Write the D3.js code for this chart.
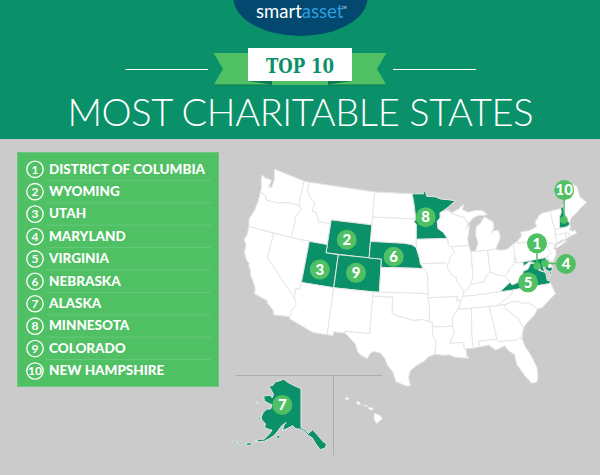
<!DOCTYPE html>
<html>
<head>
<meta charset="utf-8">
<script src="https://cdn.jsdelivr.net/npm/d3@7"></script>
<style>
  html, body { margin: 0; padding: 0; background: #cbcbcb; }
  svg { display: block; }
</style>
</head>
<body>
<svg id="chart"></svg>
<script>
// ranking, best first
const rankNames = ["DISTRICT OF COLUMBIA", "WYOMING", "UTAH", "MARYLAND", "VIRGINIA", "NEBRASKA", "ALASKA", "MINNESOTA", "COLORADO", "NEW HAMPSHIRE"];
const rankCodes = ["DC", "WY", "UT", "MD", "VA", "NE", "AK", "MN", "CO", "NH"];
// where each number badge sits, lon/lat
const badgeAt = [[-76.7,41.58],[-108,42.9],[-111.6,38.9],[-72.93,38.4],[-79.24,37.2],[-100.1,41.35],[-154.1,65.2],[-94.84,46.15],[-105.9,39.1],[-70.1,47.04]];
// little dot a badge is tied to, for states too small to hold one
const pinAt = [[-77.4,38.92],null,null,[-76.1,39.04],null,null,null,null,null,[-71.5,43.56]];

// state outlines, lon/lat
const WA = [[-124.73,48.38],[-123.9,48.17],[-123.1,48.15],[-122.75,48.1],[-122.9,47.2],[-122.4,47.3],[-122.3,48.1],[-122.75,49.5],[-117.03,49],[-117.04,46.42],[-116.92,45.99],[-118.98,46],[-119.3,45.93],[-120.5,45.7],[-121.2,45.65],[-122.2,45.6],[-122.75,45.65],[-123,46.1],[-123.4,46.22],[-124.05,46.27],[-124.1,46.9],[-124.6,47.9]];
const OR = [[-124.05,46.27],[-123.4,46.22],[-123,46.1],[-122.75,45.65],[-122.2,45.6],[-121.2,45.65],[-120.5,45.7],[-119.3,45.93],[-118.98,46],[-116.92,45.99],[-116.46,45.6],[-116.85,44.95],[-117.22,44.4],[-116.93,44.1],[-117.03,43.83],[-117.03,42],[-124.21,42],[-124.55,42.84],[-124.1,44],[-123.95,45.2]];
const CA = [[-124.21,42],[-120,42],[-120,39],[-114.63,35],[-114.14,34.3],[-114.72,33.4],[-114.72,32.72],[-117.12,32.53],[-117.3,33.05],[-118.4,33.75],[-118.5,34.03],[-119.2,34.15],[-120.5,34.45],[-120.65,35.15],[-121.9,36.6],[-122,36.96],[-122.5,37.5],[-122.5,37.8],[-123,38],[-123.7,38.9],[-123.8,39.8],[-124.35,40.3],[-124.1,41]];
const NV = [[-120,42],[-114.04,42],[-114.04,36.2],[-114.74,36.1],[-114.63,35],[-120,39]];
const ID = [[-117.03,42],[-117.03,43.83],[-116.93,44.1],[-117.22,44.4],[-116.85,44.95],[-116.46,45.6],[-116.92,45.99],[-117.04,46.42],[-117.03,49],[-116.05,49],[-116.05,48],[-115.7,47.45],[-114.95,47],[-114.35,46.65],[-114.5,45.6],[-113.9,45.65],[-113.45,45.05],[-113,44.45],[-112.3,44.55],[-111.5,44.55],[-111.05,44.48],[-111.05,42]];
const MT = [[-116.05,49],[-104.05,49],[-104.05,45],[-111.05,45],[-111.05,44.48],[-111.5,44.55],[-112.3,44.55],[-113,44.45],[-113.45,45.05],[-113.9,45.65],[-114.5,45.6],[-114.35,46.65],[-114.95,47],[-115.7,47.45],[-116.05,48]];
const WY = [[-111.05,45],[-104.05,45],[-104.05,41],[-111.05,41]];
const UT = [[-114.04,42],[-111.05,42],[-111.05,41],[-109.05,41],[-109.05,37],[-114.04,37]];
const CO = [[-109.05,41],[-102.05,41],[-102.05,37],[-109.05,37]];
const AZ = [[-114.04,37],[-109.05,37],[-109.05,31.33],[-111.07,31.33],[-114.81,32.5],[-114.72,32.72],[-114.72,33.4],[-114.14,34.3],[-114.63,35],[-114.74,36.1],[-114.04,36.2]];
const NM = [[-109.05,37],[-103,37],[-103.05,32],[-106.62,32],[-106.53,31.78],[-108.2,31.78],[-108.2,31.33],[-109.05,31.33]];
const ND = [[-104.05,49],[-97.23,49],[-96.85,47.6],[-96.56,45.94],[-104.05,45.94]];
const SD = [[-104.05,45.94],[-96.56,45.94],[-96.85,45.6],[-96.45,45.3],[-96.45,43.5],[-96.45,42.5],[-97.2,42.85],[-98.5,43],[-104.05,43]];
const NE = [[-104.05,43],[-98.5,43],[-97.2,42.85],[-96.45,42.5],[-96.1,41.7],[-95.9,41.2],[-95.77,40.58],[-95.3,40],[-102.05,40],[-102.05,41],[-104.05,41]];
const KS = [[-102.05,40],[-95.3,40],[-94.9,39.8],[-94.62,39.1],[-94.62,37],[-102.05,37]];
const OK = [[-103,37],[-94.62,37],[-94.62,36.5],[-94.43,35.4],[-94.48,33.64],[-95.5,33.9],[-96.5,33.8],[-97.2,33.85],[-98.1,34.1],[-99.2,34.3],[-100,34.56],[-100,36.5],[-103,36.5]];
const TX = [[-103,36.5],[-100,36.5],[-100,34.56],[-99.2,34.3],[-98.1,34.1],[-97.2,33.85],[-96.5,33.8],[-95.5,33.9],[-94.48,33.64],[-94.04,33.55],[-94.04,32],[-93.55,31.2],[-93.7,30.3],[-93.85,29.7],[-94.7,29.4],[-95.3,28.9],[-96.4,28.35],[-97.2,27.7],[-97.4,26.9],[-97.15,25.95],[-97.5,25.85],[-98.2,26.05],[-99.1,26.4],[-99.5,27.5],[-100.3,28.3],[-100.7,29.1],[-101.4,29.77],[-102.3,29.88],[-102.7,29.7],[-103.15,28.98],[-104,29.3],[-104.5,29.65],[-105,30.65],[-106,31.4],[-106.53,31.78],[-106.62,32],[-103.05,32]];
const MN = [[-97.23,49],[-95.15,49],[-95.15,49.38],[-94.8,49.3],[-94.6,48.7],[-93,48.6],[-92,48.3],[-90.8,48.2],[-89.5,48],[-90.8,47.3],[-92.05,46.75],[-92.3,46.66],[-92.3,46.1],[-92.85,45.6],[-92.75,44.75],[-91.9,44.3],[-91.22,43.5],[-96.45,43.5],[-96.45,45.3],[-96.85,45.6],[-96.56,45.94],[-96.85,47.6]];
const IA = [[-96.45,43.5],[-91.22,43.5],[-91.1,42.7],[-90.65,42.5],[-90.15,41.85],[-91.05,41.2],[-91.1,40.7],[-91.42,40.38],[-91.7,40.6],[-95.77,40.58],[-95.9,41.2],[-96.1,41.7],[-96.45,42.5]];
const MO = [[-95.77,40.58],[-91.7,40.6],[-91.42,40.38],[-91.5,40],[-90.7,39],[-90.15,38.8],[-90.2,38.4],[-89.55,37.7],[-89.15,37],[-89.4,36.5],[-89.7,36],[-90.37,36],[-90.15,36.5],[-94.62,36.5],[-94.62,39.1],[-94.9,39.8],[-95.3,40]];
const AR = [[-94.62,36.5],[-90.15,36.5],[-90.37,36],[-89.7,36],[-90.1,35],[-90.6,34.7],[-91.1,33.9],[-91.17,33],[-94.04,33],[-94.04,33.55],[-94.48,33.64],[-94.43,35.4]];
const LA = [[-94.04,33],[-91.17,33],[-90.9,32.3],[-91.6,31],[-89.75,31],[-89.6,30.2],[-89.4,30.05],[-89.4,29.4],[-89.1,29.05],[-90.1,29.15],[-91.2,29.3],[-91.8,29.6],[-92.3,29.55],[-93.85,29.7],[-93.7,30.3],[-93.55,31.2],[-94.04,32]];
const WI = [[-92.3,46.66],[-92.05,46.75],[-90.9,46.95],[-90.4,46.55],[-89.1,46.15],[-88.1,45.9],[-87.8,45.35],[-87.6,45.1],[-88,44.55],[-87.4,45],[-87.55,44.2],[-87.9,43.2],[-87.8,42.5],[-90.65,42.5],[-91.1,42.7],[-91.22,43.5],[-91.9,44.3],[-92.75,44.75],[-92.85,45.6],[-92.3,46.1]];
const IL = [[-90.65,42.5],[-87.8,42.5],[-87.53,41.7],[-87.53,39.35],[-87.6,38.7],[-88.05,37.8],[-88.45,37.4],[-89.15,37],[-89.55,37.7],[-90.2,38.4],[-90.15,38.8],[-90.7,39],[-91.5,40],[-91.42,40.38],[-91.1,40.7],[-91.05,41.2],[-90.15,41.85]];
const IN = [[-87.53,41.7],[-87.2,41.76],[-86.8,41.76],[-84.8,41.7],[-84.82,39.1],[-85.4,38.7],[-86,38],[-86.8,37.95],[-88.05,37.8],[-87.6,38.7],[-87.53,39.35]];
const MIL = [[-86.8,41.76],[-84.8,41.7],[-83.45,41.73],[-83.1,42.2],[-82.45,43],[-82.6,43.9],[-83.4,43.95],[-83.9,43.7],[-83.3,44.3],[-83.3,45],[-84.7,45.75],[-85.5,45],[-86.25,44.7],[-86.5,43.7],[-86.2,42.7]];
const MIU = [[-90.4,46.55],[-89.1,46.95],[-88.4,47.35],[-88,47.45],[-88.4,46.9],[-87.4,46.5],[-86,46.65],[-84.9,46.5],[-84.1,46],[-84.75,45.9],[-85.6,46],[-86.5,45.8],[-87.6,45.1],[-87.8,45.35],[-88.1,45.9],[-89.1,46.15]];
const OH = [[-84.8,41.7],[-83.45,41.73],[-82.7,41.5],[-81.7,41.5],[-80.52,42],[-80.52,40.64],[-80.85,39.7],[-81.7,39.2],[-82.2,38.6],[-82.6,38.4],[-83.65,38.6],[-84.82,39.1]];
const KY = [[-89.15,37],[-88.45,37.4],[-88.05,37.8],[-86.8,37.95],[-86,38],[-85.4,38.7],[-84.82,39.1],[-83.65,38.6],[-82.6,38.4],[-81.97,37.54],[-83.68,36.6],[-88.07,36.5],[-89.4,36.5]];
const TN = [[-89.7,36],[-89.4,36.5],[-88.07,36.5],[-83.68,36.6],[-81.68,36.59],[-82,36.1],[-84.32,35],[-85.6,35],[-88.2,35],[-90.1,35]];
const WV = [[-82.6,38.4],[-82.2,38.6],[-81.7,39.2],[-80.85,39.7],[-80.52,40.64],[-80.52,39.72],[-79.48,39.72],[-79.48,39.2],[-78.4,39.62],[-77.72,39.32],[-78.35,39.35],[-78.87,38.76],[-79.65,38.6],[-80.3,37.5],[-81.68,37.2],[-81.97,37.54]];
const VA = [[-83.68,36.6],[-81.97,37.54],[-81.68,37.2],[-80.3,37.5],[-79.65,38.6],[-78.87,38.76],[-78.35,39.35],[-77.72,39.32],[-77.12,38.93],[-77.04,38.79],[-77.3,38.4],[-76.3,37.95],[-76.3,37],[-76,36.92],[-75.87,36.55],[-81.68,36.59]];
const VAE = [[-75.95,37.15],[-75.65,37.95],[-75.25,38.03]];
const MD = [[-79.48,39.72],[-75.79,39.72],[-75.7,38.46],[-75.05,38.45],[-75.25,38.03],[-75.65,37.95],[-76.2,38.3],[-76.2,39.3],[-76.4,39.2],[-76.5,38.5],[-76.35,38.05],[-77,38.3],[-77.04,38.79],[-77.12,38.93],[-77.72,39.32],[-78.4,39.62],[-79.48,39.2]];
const DC = [[-77.12,38.93],[-77.04,39],[-76.91,38.89],[-77.04,38.79]];
const DE = [[-75.79,39.72],[-75.4,39.8],[-75.55,39.45],[-75.05,38.45],[-75.7,38.46]];
const PA = [[-80.52,42],[-79.76,42.27],[-79.76,42],[-75.35,42],[-74.7,41.36],[-75.1,40.95],[-75.2,40.68],[-74.72,40.15],[-75.4,39.8],[-75.79,39.72],[-80.52,39.72],[-80.52,40.64]];
const NJ = [[-74.7,41.36],[-73.9,41],[-74.25,40.5],[-73.98,40.4],[-74.1,39.75],[-74.9,38.95],[-75.55,39.45],[-75.4,39.8],[-74.72,40.15],[-75.2,40.68],[-75.1,40.95]];
const NY = [[-79.76,42],[-79.76,42.27],[-78.9,42.85],[-79.05,43.27],[-77.5,43.27],[-76.2,43.55],[-76.3,44.1],[-75.3,44.85],[-74.7,45],[-73.35,45],[-73.4,43.6],[-73.25,42.75],[-73.5,42.05],[-73.49,41.2],[-73.7,41],[-73.9,41],[-74.7,41.36],[-75.35,42]];
const LI = [[-74,40.6],[-73.7,40.9],[-72.3,41.15],[-71.9,41.05],[-73.5,40.58]];
const CT = [[-73.5,42.05],[-71.8,42.02],[-71.8,41.32],[-72.9,41.25],[-73.7,41],[-73.49,41.2]];
const RI = [[-71.8,42.02],[-71.38,42.02],[-71.2,41.5],[-71.8,41.32]];
const MA = [[-73.5,42.05],[-73.25,42.75],[-72.46,42.73],[-71.3,42.7],[-70.8,42.87],[-70.65,42.6],[-71.05,42.3],[-70.6,41.95],[-70.2,42.07],[-70,41.7],[-70.65,41.55],[-71.2,41.5],[-71.38,42.02],[-71.8,42.02]];
const VT = [[-73.35,45],[-71.5,45],[-71.6,44.5],[-72.05,44.1],[-72.45,43],[-72.46,42.73],[-73.25,42.75],[-73.4,43.6]];
const NH = [[-71.5,45],[-71.08,45.3],[-70.98,43.4],[-70.7,43.07],[-70.8,42.87],[-71.3,42.7],[-72.46,42.73],[-72.45,43],[-72.05,44.1],[-71.6,44.5]];
const ME = [[-71.08,45.3],[-70.3,45.9],[-70,46.7],[-69.2,47.45],[-68.3,47.35],[-67.8,47.05],[-67.8,45.7],[-67,44.85],[-68.5,44.3],[-69.1,44],[-70.2,43.6],[-70.7,43.07],[-70.98,43.4]];
const NC = [[-84.32,35],[-82,36.1],[-81.68,36.59],[-75.87,36.55],[-75.5,35.25],[-76.5,34.7],[-77.9,33.9],[-78.55,33.87],[-79.67,34.8],[-80.8,34.82],[-81,35.1],[-82.3,35.2],[-83.1,35]];
const SC = [[-83.1,35],[-82.3,35.2],[-81,35.1],[-80.8,34.82],[-79.67,34.8],[-78.55,33.87],[-79.2,33.2],[-80.4,32.45],[-80.9,32.05],[-81.15,32.2],[-81.5,33],[-82.6,34],[-83.35,34.7]];
const GA = [[-85.6,35],[-84.32,35],[-83.1,35],[-83.35,34.7],[-82.6,34],[-81.5,33],[-81.15,32.2],[-80.9,32.05],[-81.3,31.3],[-81.45,30.72],[-82,30.75],[-82.2,30.57],[-84.86,30.7],[-85,31],[-85.05,31.5],[-85.2,32.85]];
const AL = [[-88.2,35],[-85.6,35],[-85.2,32.85],[-85.05,31.5],[-85,31],[-87.6,31],[-87.5,30.3],[-88.4,30.2],[-88.47,31.9]];
const MS = [[-90.1,35],[-88.2,35],[-88.47,31.9],[-88.4,30.2],[-89.6,30.2],[-89.75,31],[-91.6,31],[-90.9,32.3],[-91.17,33],[-91.1,33.9],[-90.6,34.7]];
const FL = [[-87.6,31],[-85,31],[-84.86,30.7],[-82.2,30.57],[-82,30.75],[-81.45,30.72],[-81.25,29.8],[-80.55,28.4],[-80.05,26.9],[-80.15,25.75],[-80.4,25.2],[-81.1,25.15],[-81.8,26.1],[-82.7,27.7],[-82.8,28.9],[-83.6,29.5],[-84,30.1],[-85.3,29.7],[-86.2,30.4],[-87.5,30.3]];

const lower48 = [["WA",WA],["OR",OR],["CA",CA],["NV",NV],["ID",ID],["MT",MT],["WY",WY],["UT",UT],["CO",CO],["AZ",AZ],["NM",NM],["ND",ND],["SD",SD],["NE",NE],["KS",KS],["OK",OK],["TX",TX],["MN",MN],["IA",IA],["MO",MO],["AR",AR],["LA",LA],["WI",WI],["IL",IL],["IN",IN],["MI",MIL],["MI",MIU],["OH",OH],["KY",KY],["TN",TN],["WV",WV],["VA",VA],["VA",VAE],["MD",MD],["DC",DC],["DE",DE],["PA",PA],["NJ",NJ],["NY",NY],["NY",LI],["CT",CT],["RI",RI],["MA",MA],["VT",VT],["NH",NH],["ME",ME],["NC",NC],["SC",SC],["GA",GA],["AL",AL],["MS",MS],["FL",FL]];

const AK_MAIN = [[-141,69.6],[-141,60.3],[-139.5,59.9],[-137.5,58.9],[-135.5,59.7],[-133.5,58.4],[-131.5,56.7],[-130,55.9],[-131,55],[-133,54.8],[-134.5,56.2],[-136,57.8],[-137.5,58.4],[-139.8,59.6],[-142,60],[-144,60],[-146,60.7],[-148.5,60],[-151.7,59.2],[-151,60.8],[-150,61.2],[-152,60.5],[-153.5,59.5],[-154,58.9],[-156,57.5],[-158,56.5],[-160,55.6],[-162.5,55],[-164.8,54.6],[-163,55.5],[-160.5,56],[-158.5,57.5],[-157.5,58.7],[-159,58.6],[-162,58.7],[-161.8,59.6],[-164,60],[-165.3,60.6],[-165,62],[-163.5,63],[-161,63.5],[-161,64.5],[-163,64.5],[-166.5,64.6],[-168,65.6],[-164,66.5],[-162,66.1],[-161.7,67],[-164,67.7],[-166.7,68.4],[-164,69],[-163,70],[-160,70.6],[-156.6,71.35],[-152,70.8],[-148,70.4],[-144,70]];
const KODIAK = [[-154.5,57.4],[-153.2,58],[-152.3,57.6],[-153.6,57]];
const NUNIVAK = [[-167,60.2],[-165.5,60.5],[-165.5,59.9],[-166.8,59.9]];
const ST_LAWRENCE = [[-171.5,63.5],[-169,63.4],[-170.3,63.1]];
const UNIMAK = [[-168.5,53.3],[-166,54],[-165.5,53.6],[-167.5,52.9]];
const ATKA = [[-174.5,52],[-172.8,52.4],[-172.6,52],[-174.2,51.7]];
const ATTU = [[-171.8,52.4],[-169.8,52.9],[-170,52.5],[-171.6,52.1]];
const alaskaRings = [AK_MAIN, KODIAK, NUNIVAK, ST_LAWRENCE, UNIMAK, ATKA, ATTU];

const HI_BIG = [[-155.9,20.25],[-155.1,19.9],[-154.85,19.5],[-155.65,18.95],[-155.95,19.5]];
const HI_MAUI = [[-156.7,20.95],[-156.3,20.95],[-156,20.75],[-156.4,20.58],[-156.65,20.8]];
const HI_MOLOKAI = [[-157.3,21.2],[-156.75,21.18],[-157.1,21.08]];
const HI_OAHU = [[-158.27,21.55],[-158,21.72],[-157.7,21.35],[-158.1,21.3]];
const HI_KAUAI = [[-159.75,22.1],[-159.4,22.23],[-159.3,21.95],[-159.6,21.88]];
const hawaiiRings = [HI_BIG, HI_MAUI, HI_MOLOKAI, HI_OAHU, HI_KAUAI];

const width = 600, height = 475;
const headerGreen = "#0a9169", lightGreen = "#50c064", grey = "#cbcbcb", borderGrey = "#e6e6e6";

const mainland = d3.geoConicEqualArea().parallels([29.5, 45.5]).rotate([96, 0]).center([0, 38]).scale(475).translate([419, 285.3]);
const akBase = d3.geoConicEqualArea().parallels([55, 65]).rotate([141, 0]).center([0, 65]).scale(240).translate([301, 408]);
// the reference squeezes Alaska's west side a bit
const akProj = p => {
  const q = akBase(p);
  return [q[0] < 301 ? 301 + (q[0] - 301) * 0.82 : q[0], q[1]];
};
const hiProj = d3.geoConicEqualArea().parallels([8, 18]).rotate([157, 0]).center([0, 20.5]).scale(460).translate([366, 411]);

const svg = d3.select("#chart").attr("width", width).attr("height", height).attr("viewBox", [0, 0, width, height]);
svg.append("rect").attr("width", width).attr("height", height).attr("fill", grey);

// header
const head = svg.append("g");
head.append("rect").attr("width", width).attr("height", 139).attr("fill", headerGreen);
head.append("ellipse").attr("cx", 300.5).attr("cy", -2).attr("rx", 67).attr("ry", 38).attr("fill", "#02486f");
const logo = head.append("text").attr("x", 256).attr("y", 18).attr("font-family", "Lato, sans-serif").attr("font-weight", 400).attr("font-size", 18.5);
logo.append("tspan").attr("fill", "#fff").text("smart");
logo.append("tspan").attr("fill", "#2b9fe0").text("asset");
head.append("text").attr("x", 342).attr("y", 9).attr("fill", "#fff").attr("font-family", "Lato, sans-serif").attr("font-size", 3).text("TM");

head.selectAll("line.rule").data([[125.5, 208], [393, 476]]).join("line").attr("class", "rule")
  .attr("x1", d => d[0]).attr("x2", d => d[1]).attr("y1", 69.5).attr("y2", 69.5).attr("stroke", "#fff").attr("stroke-width", 1);

head.append("path").attr("fill", lightGreen)
  .attr("d", "M213.5 53H386.5L377 69L386.5 85H213.5L223 69Z");
head.append("path").attr("fill", "#0c7a55").attr("d", "M248 81L272 84.5V81Z M352 81L328 84.5V81Z M213.5 84.5H272V85.5H213.5Z M328 84.5H386.5V85.5H328Z");
head.append("rect").attr("x", 248).attr("y", 48).attr("width", 104).attr("height", 33).attr("fill", "#fff");
head.append("text").attr("x", 300).attr("y", 73).attr("text-anchor", "middle").attr("fill", headerGreen)
  .attr("font-family", "'DejaVu Serif', serif").attr("font-weight", "bold").attr("font-size", 20)
  .attr("textLength", 68).attr("lengthAdjust", "spacingAndGlyphs").text("TOP 10");
head.append("text").attr("x", 300.5).attr("y", 126).attr("text-anchor", "middle").attr("fill", "#fff")
  .attr("font-family", "Lato, sans-serif").attr("font-weight", 300).attr("font-size", 38)
  .attr("textLength", 466).text("MOST CHARITABLE STATES");

// ranked list panel
const rowY = d3.scaleLinear().domain([0, 9]).range([169.3, 371]);
const panel = svg.append("g");
panel.append("rect").attr("x", 17.5).attr("y", 152.5).attr("width", 201).attr("height", 234).attr("fill", lightGreen).attr("stroke", "#6cc583");
panel.selectAll("line").data(rankNames.slice(1)).join("line")
  .attr("x1", 46).attr("x2", 211)
  .attr("y1", (d, i) => rowY(i) + 11).attr("y2", (d, i) => rowY(i) + 11)
  .attr("stroke", "#65c979");
const rows = panel.selectAll("g.row").data(rankNames).join("g").attr("class", "row")
  .attr("transform", (d, i) => `translate(0,${rowY(i)})`);
rows.append("circle").attr("cx", 35).attr("r", 8.2).attr("fill", "none").attr("stroke", "#fff").attr("stroke-width", 1.3);
rows.append("text").attr("x", 35).attr("y", 4.3).attr("text-anchor", "middle").attr("fill", "#fff")
  .attr("font-family", "Lato, sans-serif").attr("font-weight", 700).attr("font-size", 12).text((d, i) => i + 1);
rows.append("text").attr("x", 49).attr("y", 4.3).attr("fill", "#fff")
  .attr("font-family", "Lato, sans-serif").attr("font-weight", 900).attr("font-size", 13.5).text(d => d);

// map
const ringPath = (ring, proj) => d3.line()(ring.map(p => proj(p))) + "Z";
const fillFor = code => rankCodes.includes(code) ? headerGreen : "#fff";
const map = svg.append("g").attr("stroke", borderGrey).attr("stroke-width", 1).attr("stroke-linejoin", "round");
map.selectAll("path.state").data(lower48).join("path").attr("class", "state")
  .attr("d", d => ringPath(d[1], mainland)).attr("fill", d => fillFor(d[0]));
map.selectAll("path.ak").data(alaskaRings).join("path").attr("class", "ak")
  .attr("d", d => ringPath(d, akProj)).attr("fill", fillFor("AK"));
map.selectAll("path.hi").data(hawaiiRings).join("path").attr("class", "hi")
  .attr("d", d => ringPath(d, hiProj)).attr("fill", "#fff");

// inset dividers
const inset = svg.append("g").attr("stroke", "#adadad").attr("stroke-width", 1);
inset.append("line").attr("x1", 236).attr("x2", 382).attr("y1", 375.5).attr("y2", 375.5);
inset.append("line").attr("x1", 333.5).attr("x2", 333.5).attr("y1", 375).attr("y2", 455);

// badges
const badgeProj = i => rankCodes[i] === "AK" ? akProj : mainland;
const badges = svg.append("g");
badgeAt.forEach((at, i) => {
  const proj = badgeProj(i);
  const p = proj(at);
  if (pinAt[i]) {
    const q = proj(pinAt[i]);
    badges.append("line").attr("x1", p[0]).attr("y1", p[1]).attr("x2", q[0]).attr("y2", q[1]).attr("stroke", lightGreen).attr("stroke-width", 1.5);
    badges.append("circle").attr("cx", q[0]).attr("cy", q[1]).attr("r", 3.8).attr("fill", lightGreen);
  }
  badges.append("circle").attr("cx", p[0]).attr("cy", p[1]).attr("r", 10).attr("fill", lightGreen);
  badges.append("text").attr("x", p[0]).attr("y", p[1] + 5.2).attr("text-anchor", "middle").attr("fill", "#fff")
    .attr("font-family", "Lato, sans-serif").attr("font-weight", 900).attr("font-size", 15).text(i + 1);
});
</script>
</body>
</html>
